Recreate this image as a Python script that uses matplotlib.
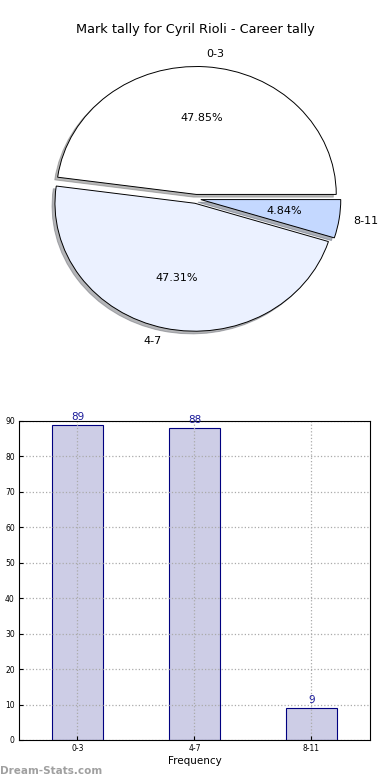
import matplotlib
matplotlib.use("Agg")
import matplotlib.pyplot as plt

# Tally data
categories = ["0-3", "4-7", "8-11"]
counts = [89, 88, 9]
pie_colors = ["#ffffff", "#ebf1ff", "#c4d8ff"]
y_ticks = [0, 10, 20, 30, 40, 50, 60, 70, 80, 90]

fig = plt.figure(figsize=(3.9, 7.8), dpi=100)

# Pie chart (stretched, not equal aspect)
ax_pie = fig.add_axes([0.054, 0.540, 0.897, 0.410])
wedges, texts, autotexts = ax_pie.pie(
    counts,
    labels=categories,
    colors=pie_colors,
    explode=[0.035, 0.035, 0.035],
    autopct="%.2f%%",
    shadow={"ox": -0.015, "oy": -0.015, "shade": 0.55},
    startangle=0,
    wedgeprops={"edgecolor": "black", "linewidth": 0.7},
    textprops={"fontsize": 8},
)
ax_pie.set_aspect("auto")
ax_pie.set_xlim(-1.25, 1.25)
ax_pie.set_ylim(-1.25, 1.25)

fig.text(0.5, 1 - 30 / 780, "Mark tally for Cyril Rioli - Career tally",
         ha="center", va="center", fontsize=9.3)

# Bar chart
ax_bar = fig.add_axes([0.0487, 0.0513, 0.90, 0.409])
x = list(range(len(categories)))
bars = ax_bar.bar(x, counts, width=0.44, color="#cdcde6",
                  edgecolor="#000080", linewidth=0.8, zorder=1)
ax_bar.set_xlim(-0.5, 2.5)
ax_bar.set_ylim(0, 90)
ax_bar.set_xticks(x)
ax_bar.set_xticklabels(categories)
ax_bar.set_yticks(y_ticks)
ax_bar.tick_params(labelsize=5.5, direction="in", length=3, pad=3)
ax_bar.set_axisbelow("line")
ax_bar.grid(True, linestyle=":", color="#aaaaaa", linewidth=0.9)
ax_bar.set_xlabel("Frequency", fontsize=7.5, labelpad=2)
for xi, c in zip(x, counts):
    ax_bar.text(xi, c + 0.8, str(c), ha="center", va="bottom",
                fontsize=7.5, color="#1a1a99")

fig.text(0.0, 1 - 771 / 780, "Dream-Stats.com", ha="left", va="center",
         fontsize=7.5, color="#a0a0a0", fontweight="bold")

fig.savefig("out.png", dpi=100)
